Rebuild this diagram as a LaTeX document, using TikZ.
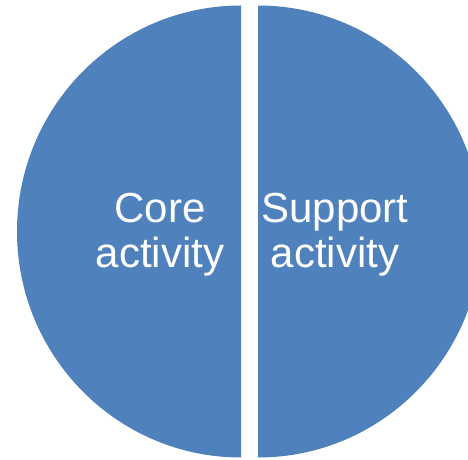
\documentclass[tikz,border=0pt]{standalone}
\usepackage{fontspec}
\setmainfont{Liberation Sans}
\usetikzlibrary{positioning}
\definecolor{pieblue}{HTML}{4F81BD}
\tikzstyle{half} = [fill=pieblue, draw=none]
\tikzstyle{halftext} = [text=white, align=center, inner sep=0pt, font=\fontsize{42}{45}\selectfont]

\begin{document}
\begin{tikzpicture}[x=1pt,y=1pt]
	\useasboundingbox (0,0) rectangle (468,459);
	\clip (0,0) rectangle (468,459);
	% two halves of the circle
	\fill[half] (241,453.5) arc [start angle=90, end angle=270, x radius=224, y radius=226] -- cycle;
	\fill[half] (258,453.5) arc [start angle=90, end angle=-90, x radius=224, y radius=226] -- cycle;
	\node[halftext] (core) at (160,224) {Core\\activity};
	\node[halftext] (support) at (335,224) {Support\\activity};
\end{tikzpicture}
\end{document}
